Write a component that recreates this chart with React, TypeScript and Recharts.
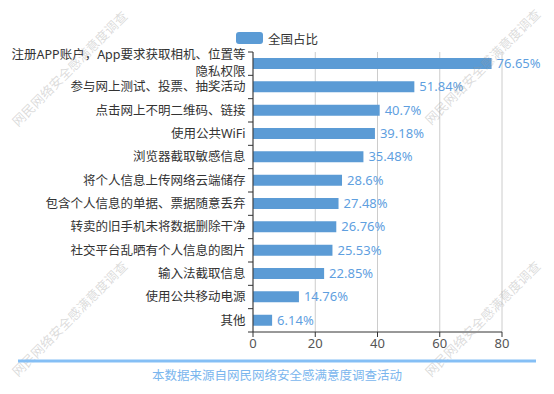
import React from 'react';
import { BarChart, Bar, XAxis, YAxis, CartesianGrid, Legend, LabelList } from 'recharts';

const categories = [
  '注册APP账户，App要求获取相机、位置等隐私权限',
  '参与网上测试、投票、抽奖活动',
  '点击网上不明二维码、链接',
  '使用公共WiFi',
  '浏览器截取敏感信息',
  '将个人信息上传网络云端储存',
  '包含个人信息的单据、票据随意丢弃',
  '转卖的旧手机未将数据删除干净',
  '社交平台乱晒有个人信息的图片',
  '输入法截取信息',
  '使用公共移动电源',
  '其他',
];
const shares = [76.65, 51.84, 40.7, 39.18, 35.48, 28.6, 27.48, 26.76, 25.53, 22.85, 14.76, 6.14];
const xTicks = [0, 20, 40, 60, 80];
const seriesName = '全国占比';
const sourceNote = '本数据来源自网民网络安全感满意度调查活动';
const watermark = '网民网络安全感满意度调查';

const data = categories.map((name, i) => ({ name, value: shares[i] }));

const W = 554;
const H = 394;
const MARGIN = { top: 32, right: 52, bottom: 32, left: 0 };
const LEGEND_H = 20;
const Y_AXIS_W = 253;
const X_AXIS_H = 30;
const PLOT_H = H - MARGIN.top - LEGEND_H - MARGIN.bottom - X_AXIS_H;
const BAND = PLOT_H / categories.length;
const AXIS_X = MARGIN.left + Y_AXIS_W;
const BLUE = '#5b9bd5';
const FONT = "'Noto Sans', 'Noto Sans CJK SC', sans-serif";

function CategoryTick(props: any) {
  const { y, payload, index } = props;
  const label: string = payload.value;
  const lines = label.length > 20 ? [label.slice(0, 21), label.slice(21)] : [label];
  const half = BAND / 2;
  const textX = AXIS_X - 7.5;
  const style = { fontSize: 12.5, fill: '#333', fontFamily: FONT };
  return (
    <g>
      <line x1={AXIS_X - 5} x2={AXIS_X} y1={y - half} y2={y - half} stroke="#333" />
      {index === categories.length - 1 && (
        <line x1={AXIS_X - 5} x2={AXIS_X} y1={y + half} y2={y + half} stroke="#333" />
      )}
      {lines.length === 1 ? (
        <text x={textX} y={y} dy="0.35em" textAnchor="end" {...style}>
          {lines[0]}
        </text>
      ) : (
        <g>
          <text x={textX} y={y - 9.5} dy="0.35em" textAnchor="end" {...style}>
            {lines[0]}
          </text>
          <text x={textX} y={y + 7.5} dy="0.35em" textAnchor="end" {...style}>
            {lines[1]}
          </text>
        </g>
      )}
    </g>
  );
}

function LegendBox() {
  return (
    <div style={{ height: LEGEND_H, display: 'flex', justifyContent: 'center', alignItems: 'center' }}>
      <svg width={27} height={12} style={{ marginRight: 5 }}>
        <rect x={0} y={0} width={27} height={12} rx={3} fill={BLUE} />
      </svg>
      <span style={{ fontSize: 12.5, color: '#333', fontFamily: FONT }}>{seriesName}</span>
    </div>
  );
}

export default function App() {
  const marks = [
    [70, 69],
    [483, 67],
    [70, 319],
    [483, 319],
  ];
  return (
    <div style={{ position: 'absolute', left: 0, top: 0, width: W, height: H, background: '#fff' }}>
      <BarChart width={W} height={H} data={data} layout="vertical" margin={MARGIN}>
        <CartesianGrid horizontal={false} stroke="#ccc" />
        <Legend verticalAlign="top" content={<LegendBox />} wrapperStyle={{ top: 28, left: 0, width: W }} />
        <XAxis
          type="number"
          domain={[0, 80]}
          ticks={xTicks}
          height={X_AXIS_H}
          tickSize={5}
          stroke="#333"
          tick={{ fill: '#555', fontSize: 13, fontFamily: FONT }}
        />
        <YAxis
          type="category"
          dataKey="name"
          width={Y_AXIS_W}
          stroke="#333"
          tickLine={false}
          interval={0}
          tick={<CategoryTick />}
        />
        <Bar dataKey="value" name={seriesName} fill={BLUE} barSize={11} isAnimationActive={false}>
          <LabelList
            dataKey="value"
            position="right"
            offset={5}
            fill="#5f9fdf"
            fontSize={13}
            fontFamily={FONT}
            formatter={(v: any) => `${v}%`}
          />
        </Bar>
      </BarChart>
      <svg width={W} height={H} style={{ position: 'absolute', left: 0, top: 0, pointerEvents: 'none' }}>
        {marks.map(([cx, cy], i) => (
          <text
            key={i}
            x={cx}
            y={cy}
            dy="0.35em"
            textAnchor="middle"
            fontSize={13}
            fill="#999"
            fillOpacity={0.35}
            fontFamily={FONT}
            transform={`rotate(-45 ${cx} ${cy})`}
          >
            {watermark}
          </text>
        ))}
        <line x1={18} x2={536} y1={361} y2={361} stroke="#85bff5" strokeWidth={3} />
        <text x={W / 2} y={376} dy="0.35em" textAnchor="middle" fontSize={12.5} fill="#7ab6ee" fontFamily={FONT}>
          {sourceNote}
        </text>
      </svg>
    </div>
  );
}
